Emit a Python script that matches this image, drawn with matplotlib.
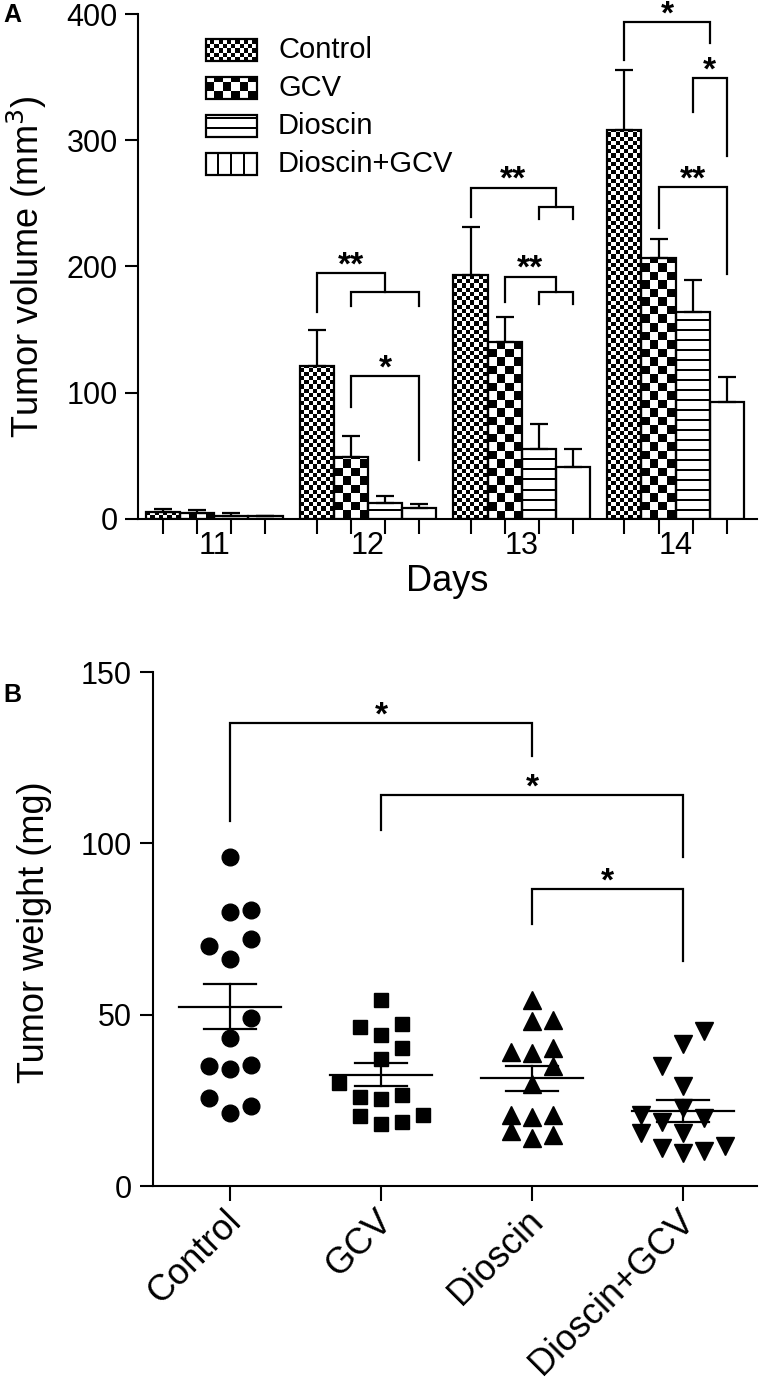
import numpy as np
import matplotlib
matplotlib.use("Agg")
import matplotlib.pyplot as plt
from matplotlib.patches import Rectangle
from matplotlib.transforms import ScaledTranslation

plt.rcParams['font.family'] = ['Liberation Sans', 'DejaVu Sans']
plt.rcParams['axes.linewidth'] = 1.5

W, H, DPI = 762, 1388, 100

#####################
# Panel A data: tumor volume (mm3) per day
#####################
days = ["11", "12", "13", "14"]
groups = ["Control", "GCV", "Dioscin", "Dioscin+GCV"]

vol_control = [5.5, 121, 193, 308]
vol_gcv = [5, 49, 140, 207]
vol_dioscin = [2.5, 12.6, 55.5, 163.6]
vol_combo = [2, 8.7, 41.5, 92.5]

sem_control = [2.5, 28.5, 38, 48]
sem_gcv = [2, 17, 20, 15]
sem_dioscin = [2.5, 5.4, 19.5, 25.4]
sem_combo = [0.5, 3.3, 14, 20]

# (day, left group, right group, bracket height, left foot, right foot, label)
# fractional group = bracket lands on the middle of a sub-bracket
brackets_a = [
    (1, 0, 2, 195, 164, 179.5, "**"),
    (1, 1, 3, 179.5, 168.5, 168.5, ""),
    (1, 1, 3, 113, 88.5, 46.6, "*"),
    (2, 0, 2.5, 262.5, 239.5, 247.5, "**"),
    (2, 2, 3, 247.5, 238, 238, ""),
    (2, 1, 2.5, 192, 171.5, 179.5, "**"),
    (2, 2, 3, 179.5, 170, 170, ""),
    (3, 0, 2.5, 393.5, 363.6, 377, "*"),
    (3, 2, 3, 349.5, 322.5, 287.7, "*"),
    (3, 1, 3, 263, 230.8, 193.7, "**"),
]

#####################
# Panel B data: tumor weight (mg), one value per mouse
#####################
wt_control = [96.1, 79.9, 80.4, 70.1, 72.2, 66.1, 48.9, 43.1, 34.9, 34.1, 35.4, 25.7, 23.4, 21.3]
wt_gcv = [54.3, 46.5, 47.3, 44.1, 40.2, 37.0, 30.2, 25.9, 25.5, 26.6, 20.3, 18.2, 18.6, 20.8]
wt_dioscin = [54.3, 48.2, 48.4, 39.2, 38.8, 40.2, 34.9, 29.7, 20.8, 20.2, 20.8, 16.0, 14.1, 15.0]
wt_combo = [45.1, 41.4, 34.9, 29.3, 22.8, 20.8, 19.9, 18.6, 15.5, 15.5, 11.1, 9.5, 10.2, 11.6]

# column slot of each dot in the scatter (as laid out in the original)
col_control = [0, 0, 1, -1, 1, 0, 1, 0, -1, 0, 1, -1, 1, 0]
col_gcv = [0, -1, 1, 0, 1, 0, -2, -1, 0, 1, -1, 0, 1, 2]
col_dioscin = [0, 0, 1, -1, 0, 1, 1, 0, -1, 0, 1, -1, 0, 1]
col_combo = [1, 0, -1, 0, 0, -2, 1, -1, -2, 0, -1, 0, 1, 2]

# (left group, right group, bracket height, left foot, right foot, label)
brackets_b = [
    (0, 2, 135, 106.4, 125.5, "*"),
    (1, 3, 114, 104, 96, "*"),
    (2, 3, 86.7, 76.4, 65.6, "*"),
]


def px_axes(l, t, r, b):
    return [l / W, 1 - b / H, (r - l) / W, (b - t) / H]


def pattern_array(kind, w_px, h_px):
    if kind in ("fine", "coarse"):
        e = 4.2 if kind == "fine" else 8.5
        i, j = np.indices((int(np.ceil(h_px / e)) + 1, int(np.ceil(w_px / e)) + 1))
        return ((i + j) % 2).astype(float), e, e
    if kind == "hlines":
        i = np.arange(int(np.ceil(h_px / 2.0)) + 1)[:, None]
        return (((i % 5) == 4) * np.ones((1, 2))).astype(float), w_px / 2, 2.0
    if kind == "vlines":
        j = np.arange(int(np.ceil(w_px)) + 1)[None, :]
        arr = ((j % 13) >= 11) * np.ones((2, 1))
        return arr.astype(float), 1.0, h_px / 2
    return None, 1, 1


def fill_pattern(ax, patch, kind, ppx, ppy, z=2.5):
    arr, ex, ey = pattern_array(kind, patch.get_width() * ppx, patch.get_height() * ppy)
    if arr is None:
        return
    x0, y0 = patch.get_x(), patch.get_y()
    ny, nx = arr.shape
    im = ax.imshow(arr, cmap="gray_r", vmin=0, vmax=1, origin="lower",
                   interpolation="nearest", aspect="auto", zorder=z,
                   extent=(x0, x0 + nx * ex / ppx, y0, y0 + ny * ey / ppy))
    im.set_clip_path(patch)


fig = plt.figure(figsize=(W / DPI, H / DPI), dpi=DPI)

#####################
# Panel A
#####################
A_BOX = (138, 14, 757, 519)
axA = fig.add_axes(px_axes(*A_BOX))
xlimA = (-0.73, 17.38)
ppxA = (A_BOX[2] - A_BOX[0]) / (xlimA[1] - xlimA[0])
ppyA = (A_BOX[3] - A_BOX[1]) / 400.0

vols = [vol_control, vol_gcv, vol_dioscin, vol_combo]
sems = [sem_control, sem_gcv, sem_dioscin, sem_combo]
bar_kinds = ["fine", "coarse", "hlines", None]
legend_kinds = ["fine", "coarse", "hlines", "vlines"]

day_idx = np.arange(len(days))
for g in range(len(groups)):
    xs = day_idx * 4.5 + g
    bars = axA.bar(xs, vols[g], width=1.0, color="white", edgecolor="none", zorder=2)
    for rect in bars:
        fill_pattern(axA, rect, bar_kinds[g], ppxA, ppyA)
    axA.bar(xs, vols[g], width=1.0, fill=False, edgecolor="black", linewidth=1.6, zorder=3)
    axA.errorbar(xs, vols[g], yerr=[np.zeros(len(days)), sems[g]], fmt="none",
                 ecolor="black", elinewidth=1.6, capsize=6.5, capthick=1.6, zorder=4)

for d, g1, g2, yb, f1, f2, lab in brackets_a:
    x1, x2 = d * 4.5 + g1, d * 4.5 + g2
    axA.plot([x1, x1, x2, x2], [f1, yb, yb, f2], color="black", lw=1.6,
             solid_joinstyle="miter", zorder=5)
    if lab:
        axA.annotate(lab, ((x1 + x2) / 2, yb), xytext=(0, -1), textcoords="offset points",
                     ha="center", va="baseline", fontsize=24, fontweight="bold")

axA.set_xlim(*xlimA)
axA.set_ylim(0, 400)
axA.spines["top"].set_visible(False)
axA.spines["right"].set_visible(False)
axA.spines["left"].set_bounds(0, 400)
axA.set_yticks([0, 100, 200, 300, 400])
axA.tick_params(axis="y", direction="out", length=9.5, width=1.5, pad=5, labelsize=22)
axA.set_xticks(day_idx * 4.5 + 1.5)
axA.set_xticklabels(days)
axA.set_xticks([d * 4.5 + g for d in day_idx for g in range(len(groups))], minor=True)
axA.tick_params(axis="x", which="major", length=0, pad=9, labelsize=22)
axA.tick_params(axis="x", which="minor", direction="out", length=11, width=1.5)

fig.text(447 / W, 1 - 582 / H, "Days", ha="center", va="center", fontsize=26)
fig.text(27 / W, 1 - 267 / H, "Tumor volume (mm$^3$)", rotation=90,
         ha="center", va="center", fontsize=26)
fig.text(3 / W, 1 - 3 / H, "A", ha="left", va="top", fontsize=18, fontweight="bold")

# legend drawn by hand so the patterns match the bars
leg_tops = [39, 77, 115, 153]
for g, top in enumerate(leg_tops):
    lax = fig.add_axes(px_axes(206, top, 257, top + 22))
    lax.set_xlim(0, 51)
    lax.set_ylim(0, 22)
    lax.axis("off")
    r = Rectangle((0, 0), 51, 22, facecolor="white", edgecolor="none")
    lax.add_patch(r)
    fill_pattern(lax, r, legend_kinds[g], 1.0, 1.0)
    lax.add_patch(Rectangle((0, 0), 51, 22, fill=False, edgecolor="black", lw=1.6, clip_on=False, zorder=5))
    lax.set_xlim(0, 51)
    lax.set_ylim(0, 22)
    fig.text(278 / W, 1 - (top + 11) / H, groups[g], ha="left", va="center", fontsize=21)

#####################
# Panel B
#####################
B_BOX = (153, 672, 757, 1186)
axB = fig.add_axes(px_axes(*B_BOX))

weights = [wt_control, wt_gcv, wt_dioscin, wt_combo]
cols = [col_control, col_gcv, col_dioscin, col_combo]
markers = [("o", 12), ("s", 10.5), ("^", 13), ("v", 13)]
slot = 0.14

for g in range(len(groups)):
    vals = np.array(weights[g])
    xs = g + slot * np.array(cols[g])
    m, ms = markers[g]
    axB.plot(xs, vals, linestyle="none", marker=m, markersize=ms, color="black", zorder=3)
    mean = vals.mean()
    sem = vals.std(ddof=1) / np.sqrt(len(vals))
    axB.plot([g - 0.335, g + 0.335], [mean, mean], color="black", lw=1.6, zorder=4)
    axB.plot([g, g], [mean - sem, mean + sem], color="black", lw=1.6, zorder=4)
    for yv in (mean - sem, mean + sem):
        axB.plot([g - 0.17, g + 0.17], [yv, yv], color="black", lw=1.6, zorder=4)

for g1, g2, yb, f1, f2, lab in brackets_b:
    axB.plot([g1, g1, g2, g2], [f1, yb, yb, f2], color="black", lw=1.6,
             solid_joinstyle="miter", zorder=5)
    axB.annotate(lab, ((g1 + g2) / 2, yb), xytext=(0, -1), textcoords="offset points",
                 ha="center", va="baseline", fontsize=24, fontweight="bold")

axB.set_xlim(-0.51, 3.49)
axB.set_ylim(0, 150)
axB.spines["top"].set_visible(False)
axB.spines["right"].set_visible(False)
axB.spines["left"].set_bounds(0, 150)
axB.set_yticks([0, 50, 100, 150])
axB.tick_params(axis="y", direction="out", length=9.5, width=1.5, pad=6, labelsize=22)
axB.set_xticks(range(len(groups)))
axB.set_xticklabels(groups, rotation=45, ha="right", va="center",
                    rotation_mode="anchor", fontsize=26)
axB.tick_params(axis="x", direction="out", length=10.5, width=1.5, pad=11)
shift = ScaledTranslation(6 / DPI, 0, fig.dpi_scale_trans)
for lbl in axB.get_xticklabels():
    lbl.set_transform(lbl.get_transform() + shift)

fig.text(35 / W, 1 - 932 / H, "Tumor weight (mg)", rotation=90,
         ha="center", va="center", fontsize=26)
fig.text(3 / W, 1 - 683 / H, "B", ha="left", va="top", fontsize=18, fontweight="bold")

plt.savefig("out.png", dpi=DPI)
